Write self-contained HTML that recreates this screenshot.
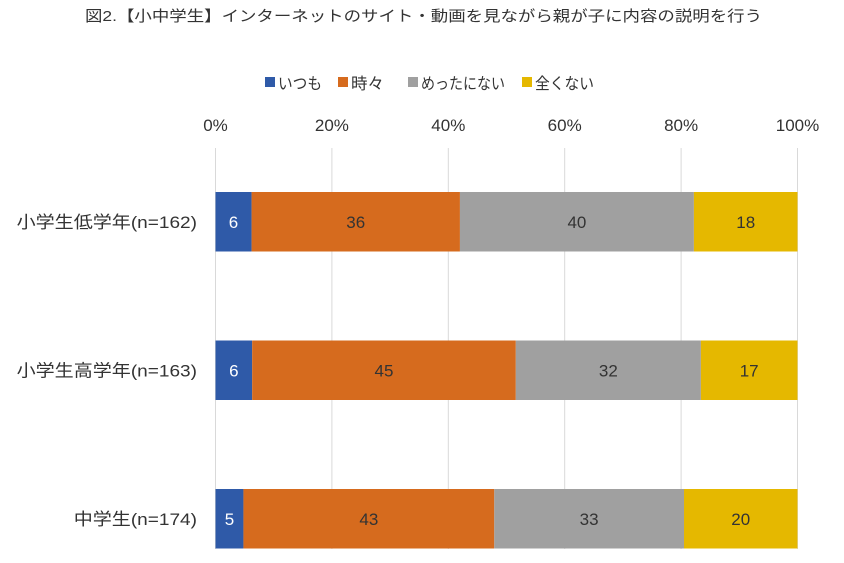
<!DOCTYPE html>
<html><head><meta charset="utf-8"><style>
body{margin:0;background:#fff;}
svg{display:block;font-family:"Liberation Sans","Noto Sans CJK JP",sans-serif;}
</style></head><body>
<svg id="chart" width="844" height="563">
<text x="85" y="21" font-size="15" fill="#333" textLength="677" lengthAdjust="spacingAndGlyphs">図2.【小中学生】インターネットのサイト・動画を見ながら親が子に内容の説明を行う</text>
<g id="legend"></g>
<g id="grid"></g>
<g id="bars"></g>
</svg>
<script>
const categories = ["小学生低学年(n=162)", "小学生高学年(n=163)", "中学生(n=174)"];
const seriesNames = ["いつも", "時々", "めったにない", "全くない"];
const itsumo = [6.2, 6.3, 4.8];
const tokidoki = [35.8, 45.3, 43.1];
const mettani = [40.2, 31.8, 32.6];
const mattaku = [17.8, 16.6, 19.5];
const ticks = [0, 20, 40, 60, 80, 100];

const series = [itsumo, tokidoki, mettani, mattaku];
const colors = ["#2f5aa8", "#d66b1e", "#a0a0a0", "#e5b800"];
const textColors = ["#fff", "#333", "#333", "#333"];
const ns = "http://www.w3.org/2000/svg";
const x0 = 215.5, x1 = 797.5;
const xs = v => x0 + (x1 - x0) * v / 100;
const rowTop = [192, 340.5, 489];
const barH = 59.5;
function mk(tag, attrs, parent) {
  const e = document.createElementNS(ns, tag);
  for (const k in attrs) e.setAttribute(k, attrs[k]);
  parent.appendChild(e);
  return e;
}
const grid = document.getElementById('grid');
ticks.forEach(t => {
  const l = mk('line', {x1: xs(t), x2: xs(t), y1: 148, y2: 549, stroke: '#d9d9d9', 'stroke-width': 1}, grid);
  
  
  const tx = mk('text', {x: xs(t), y: 131, 'text-anchor': 'middle', 'font-size': 17, fill: '#333'}, grid);
  tx.textContent = t + '%';
  
  
});
const bars = document.getElementById('bars');
categories.forEach((c, i) => {
  const lab = mk('text', {x: 197, y: rowTop[i] + barH / 2 + 6, 'text-anchor': 'end', 'font-size': 17, fill: '#333'}, bars);
  lab.textContent = c;
  
  
  const w = lab.getComputedTextLength();
  lab.setAttribute('textLength', w * 1.12);
  lab.setAttribute('lengthAdjust', 'spacingAndGlyphs');
  let acc = 0;
  series.forEach((s, j) => {
    const v = s[i];
    const r = mk('rect', {x: xs(acc), y: rowTop[i], width: xs(acc + v) - xs(acc), height: barH, fill: colors[j]}, bars);
    
    
    const t = mk('text', {x: xs(acc + v / 2), y: rowTop[i] + barH / 2 + 6, 'text-anchor': 'middle', 'font-size': 17, fill: textColors[j]}, bars);
    t.textContent = Math.round(v);
    
    
    acc += v;
  });
});
const legend = document.getElementById('legend');
const lx = [265, 338, 408, 522];
const lw = [44, 33, 84, 59];
seriesNames.forEach((n, j) => {
  const r = mk('rect', {x: lx[j], y: 77, width: 10, height: 10, fill: colors[j]}, legend);
  
  
  const t = mk('text', {x: lx[j] + 13, y: 89, 'font-size': 16, fill: '#333', textLength: lw[j], lengthAdjust: 'spacingAndGlyphs'}, legend);
  t.textContent = n;
  
  
});
</script>
</body></html>
